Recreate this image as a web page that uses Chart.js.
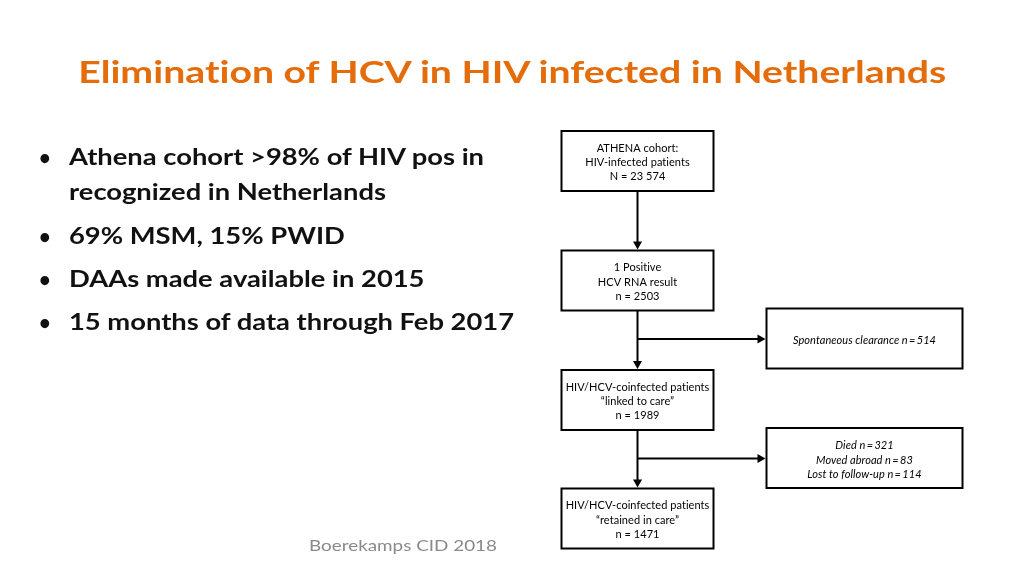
<!DOCTYPE html>
<html>
<head>
<meta charset="utf-8">
<title>Elimination of HCV in HIV infected in Netherlands</title>
<script src="https://cdn.jsdelivr.net/npm/chart.js@4.4.1/dist/chart.umd.min.js"></script>
<style>
  html, body { margin: 0; padding: 0; background: #fff; }
  #slide { position: relative; width: 1024px; height: 576px; overflow: hidden; font-family: Lato, "Open Sans", sans-serif; font-variant-ligatures: none; }
  #chart { position: absolute; left: 0; top: 0; }
  .t { position: absolute; white-space: nowrap; line-height: 1; }
  .t span { display: inline-block; }
  #title { left: 0; width: 1024px; text-align: center; top: 55.6px; font-size: 31px; font-weight: 700; color: #E46C0A; }
  #title span { transform-origin: 50% 50%; }
  .b { left: 69px; font-size: 22px; font-weight: 700; color: #111; }
  .b span { transform-origin: 0 50%; }
  .dot { left: 39px; font-size: 20px; font-weight: 700; color: #111; }
  #note { left: 309px; top: 537px; font-size: 16px; color: #8a8a8a; }
  #note span { transform-origin: 0 50%; }
</style>
</head>
<body>
<div id="slide">
  <canvas id="chart" width="1024" height="576"></canvas>
  <div class="t" id="title"><span>Elimination of HCV in HIV infected in Netherlands</span></div>
  <div id="bullets"></div>
  <div class="t" id="note"><span>Boerekamps CID 2018</span></div>
</div>
<script>
// textos dos bullets
const bulletLines = [
  ['Athena cohort >98% of HIV pos in', 'recognized in Netherlands'],
  ['69% MSM, 15% PWID'],
  ['DAAs made available in 2015'],
  ['15 months of data through Feb 2017']
];

// fluxograma: etapas principais
const mainSteps = [
  ['ATHENA cohort:', 'HIV-infected patients'],
  ['1 Positive', 'HCV RNA result'],
  ['HIV/HCV-coinfected patients', '\u201Clinked to care\u201D'],
  ['HIV/HCV-coinfected patients', '\u201Cretained in care\u201D']
];
const mainPrefix = ['N', 'n', 'n', 'n'];
const mainCounts = [23574, 2503, 1989, 1471];

// saídas laterais (entre etapa 2->3 e 3->4)
const exitLabels = [
  ['Spontaneous clearance'],
  ['Died', 'Moved abroad', 'Lost to follow-up']
];
const exitCounts = [
  [514],
  [321, 83, 114]
];

// layout (coordenadas no eixo 0..1024 x 0..576)
const layout = {
  mainX: 637.5, mainW: 152, mainH: 60,
  mainY: [161, 280.5, 400, 518.5],
  exitX: 864.5, exitW: 196, exitH: 60,
  exitY: [338.5, 458],
  branchY: [339, 458.5],
  lineGap: 14.3
};

// bullets em HTML
const baselines = [[165.5, 200], [244.5], [287.5], [330.5]];
const bulletsEl = document.getElementById('bullets');
bulletLines.forEach((lines, i) => {
  const d = document.createElement('div');
  d.className = 't dot';
  d.style.top = (baselines[i][0] - 18.5) + 'px';
  d.textContent = '\u2022';
  bulletsEl.appendChild(d);
  lines.forEach((txt, j) => {
    const el = document.createElement('div');
    el.className = 't b';
    el.style.top = (baselines[i][j] - 19.5) + 'px';
    const s = document.createElement('span');
    s.textContent = txt;
    el.appendChild(s);
    bulletsEl.appendChild(el);
  });
});

function fitSpan(span, w) {
  const r = span.getBoundingClientRect().width;
  if (r > 0) span.style.transform = 'scaleX(' + (w / r) + ')';
  return w / r;
}

function fmt(n) {
  return n >= 10000 ? String(n).replace(/\B(?=(\d{3})+(?!\d))/g, ' ') : String(n);
}

function arrowHead(ctx, x, y, dir) {
  ctx.beginPath();
  if (dir === 'down') {
    ctx.moveTo(x, y); ctx.lineTo(x - 4.5, y - 8); ctx.lineTo(x + 4.5, y - 8);
  } else {
    ctx.moveTo(x, y); ctx.lineTo(x - 8, y - 4.5); ctx.lineTo(x - 8, y + 4.5);
  }
  ctx.closePath();
  ctx.fill();
}

const flowPlugin = {
  id: 'flow',
  afterDatasetsDraw(chart) {
    const ctx = chart.ctx;
    const sx = chart.scales.x, sy = chart.scales.y;
    const px = v => sx.getPixelForValue(v);
    const py = v => sy.getPixelForValue(v);
    ctx.save();
    ctx.strokeStyle = '#000';
    ctx.fillStyle = '#000';
    ctx.lineWidth = 2;
    ctx.textAlign = 'center';
    ctx.textBaseline = 'middle';
    if ('letterSpacing' in ctx) ctx.letterSpacing = '0.05px'; // evita ligaduras do Lato

    // caixas principais
    mainSteps.forEach((lines, i) => {
      const cx = px(layout.mainX), cy = py(layout.mainY[i]);
      const w = px(layout.mainX + layout.mainW / 2) - px(layout.mainX - layout.mainW / 2);
      const h = py(layout.mainY[i] + layout.mainH / 2) - py(layout.mainY[i] - layout.mainH / 2);
      ctx.strokeRect(cx - w / 2, cy - h / 2, w, h);
      const all = lines.concat([mainPrefix[i] + ' = ' + fmt(mainCounts[i])]);
      ctx.font = '11px Lato';
      all.forEach((t, k) => {
        ctx.fillText(t, cx, cy + 1.5 + (k - (all.length - 1) / 2) * layout.lineGap);
      });
      // setas verticais
      if (i < mainSteps.length - 1) {
        const y0 = cy + h / 2;
        const y1 = py(layout.mainY[i + 1] - layout.mainH / 2) - 1;
        ctx.beginPath(); ctx.moveTo(cx, y0); ctx.lineTo(cx, y1 - 6); ctx.stroke();
        arrowHead(ctx, cx, y1, 'down');
      }
    });

    // caixas de saída
    exitLabels.forEach((labels, i) => {
      const cx = px(layout.exitX), cy = py(layout.exitY[i]);
      const w = px(layout.exitX + layout.exitW / 2) - px(layout.exitX - layout.exitW / 2);
      const h = py(layout.exitY[i] + layout.exitH / 2) - py(layout.exitY[i] - layout.exitH / 2);
      ctx.strokeRect(cx - w / 2, cy - h / 2, w, h);
      ctx.font = 'italic 11px Lato';
      labels.forEach((lab, k) => {
        const t = lab + ' n\u2009=\u2009' + exitCounts[i][k];
        ctx.fillText(t, cx, cy + 2 + (k - (labels.length - 1) / 2) * layout.lineGap);
      });
      // ramo horizontal
      const by = py(layout.branchY[i]);
      const x0 = px(layout.mainX), x1 = cx - w / 2 - 1;
      ctx.beginPath(); ctx.moveTo(x0, by); ctx.lineTo(x1 - 6, by); ctx.stroke();
      arrowHead(ctx, x1, by, 'right');
    });
    ctx.restore();
  }
};

function build() {
  // ajuste de largura dos textos (fonte substituta do Calibri)
  fitSpan(document.querySelector('#title span'), 868);
  const spans = document.querySelectorAll('.b span');
  const k = 415 / spans[0].getBoundingClientRect().width;
  spans.forEach(s => { s.style.transform = 'scaleX(' + k + ')'; });
  fitSpan(document.querySelector('#note span'), 188);

  new Chart(document.getElementById('chart').getContext('2d'), {
    type: 'scatter',
    data: {
      datasets: [{
        data: mainCounts.map((c, i) => ({ x: layout.mainX, y: layout.mainY[i] })),
        pointRadius: 0
      }]
    },
    options: {
      responsive: false,
      animation: false,
      events: [],
      layout: { padding: 0 },
      plugins: { legend: { display: false }, tooltip: { enabled: false } },
      scales: {
        x: { type: 'linear', min: 0, max: 1024, display: false },
        y: { type: 'linear', min: 0, max: 576, reverse: true, display: false }
      }
    },
    plugins: [flowPlugin]
  });
}

if (document.fonts && document.fonts.ready) {
  document.fonts.ready.then(build);
} else {
  build();
}
</script>
</body>
</html>
